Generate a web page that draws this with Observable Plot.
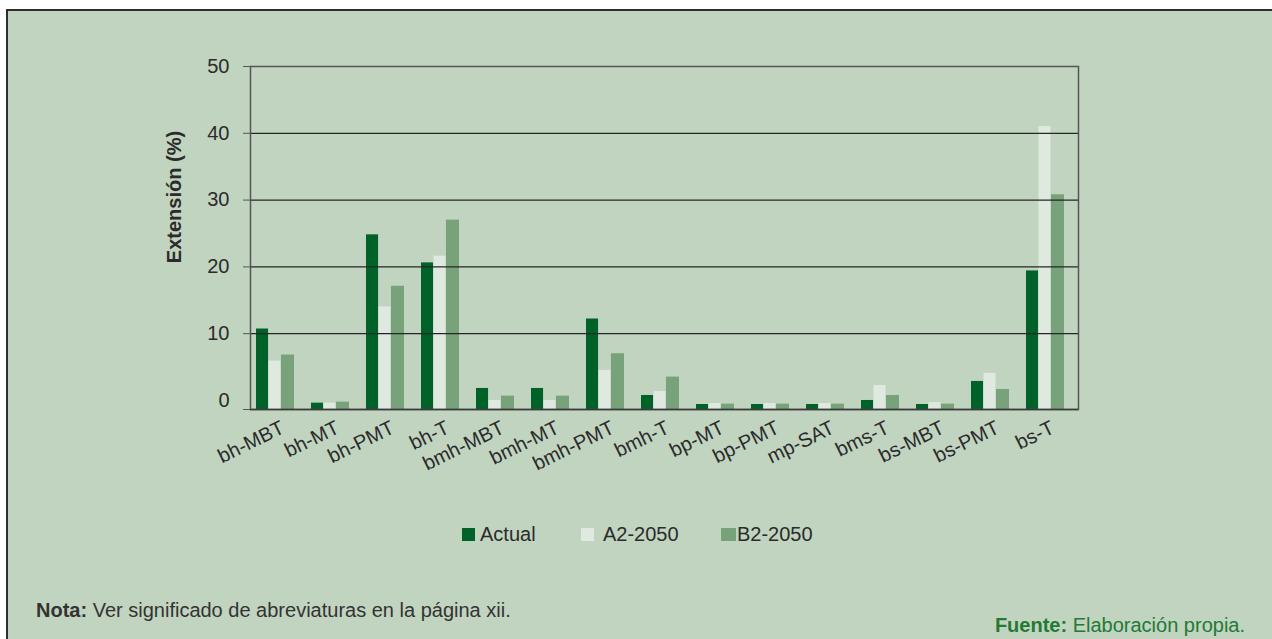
<!DOCTYPE html>
<html>
<head>
<meta charset="utf-8">
<script src="https://cdn.jsdelivr.net/npm/d3@7"></script>
<script src="https://cdn.jsdelivr.net/npm/@observablehq/plot@0.6"></script>
<style>
  html, body { margin: 0; padding: 0; background: #ffffff; }
  #page { position: relative; width: 1272px; height: 639px; overflow: hidden; background: #ffffff;
          font-family: "Liberation Sans", Arial, Helvetica, sans-serif; }
  #panel { position: absolute; left: 6px; top: 9px; width: 1270px; height: 640px;
           background: #c1d4c0; border-left: 2px solid #2e2e2e; border-top: 2px solid #2e2e2e; }
  #chart { position: absolute; left: 0; top: 0; }
  #ylab { position: absolute; left: 174px; top: 197px; transform: translate(-50%, -50%) rotate(-90deg);
          white-space: nowrap; font-weight: bold; font-size: 20px; color: #2b2b2b; }
  .leg { position: absolute; top: 522px; height: 24px; display: flex; align-items: center;
         font-size: 20px; color: #2b2b2b; }
  .sw { width: 13px; height: 13px; display: inline-block; }
  #nota { position: absolute; left: 36px; top: 599px; font-size: 20px; color: #333; }
  #fuente { position: absolute; right: 27px; top: 614px; font-size: 20px; color: #237a35; }
</style>
</head>
<body>
<div id="page">
  <div id="panel"></div>
  <div id="chart"></div>
  <div id="ylab">Extensión (%)</div>
  <div class="leg" style="left:462px"><span class="sw" style="background:#006229"></span><span style="margin-left:5px">Actual</span></div>
  <div class="leg" style="left:581px"><span class="sw" style="background:#e0e9e0"></span><span style="margin-left:9px">A2-2050</span></div>
  <div class="leg" style="left:721px"><span class="sw" style="background:#78a37a;width:15px"></span><span style="margin-left:1px">B2-2050</span></div>
  <div id="nota"><b>Nota:</b> Ver significado de abreviaturas en la página xii.</div>
  <div id="fuente"><b>Fuente:</b> Elaboración propia.</div>
</div>
<script>
const categories = ["bh-MBT","bh-MT","bh-PMT","bh-T","bmh-MBT","bmh-MT","bmh-PMT","bmh-T","bp-MT","bp-PMT","mp-SAT","bms-T","bs-MBT","bs-PMT","bs-T"];
const series = ["Actual","A2-2050","B2-2050"];
const actual = [10.7, -0.4, 24.8, 20.6, 1.8, 1.8, 12.2, 0.75, -0.6, -0.6, -0.6, 0, -0.6, 2.85, 19.4];
const a2050  = [5.9, -0.4, 14.0, 21.6, 0, 0, 4.5, 1.35, -0.45, -0.45, -0.45, 2.25, -0.3, 4.05, 41.0];
const b2050  = [6.8, -0.25, 17.1, 27.0, 0.65, 0.65, 7.0, 3.5, -0.55, -0.55, -0.55, 0.75, -0.55, 1.65, 30.8];
const yTicks = [0, 10, 20, 30, 40, 50];
const colors = ["#006229", "#e0e9e0", "#78a37a"];
const yMin = -1.35;

const rows = (vals, s) => categories.map((c, i) => ({cat: c, serie: s, value: vals[i]}));
const dActual = rows(actual, series[0]);
const dA2 = rows(a2050, series[1]);
const dB2 = rows(b2050, series[2]);

const bw = 37.4; // group width in px (band)
const third = bw / 3;

const chart = Plot.plot({
  width: 1272,
  height: 480,
  marginLeft: 250,
  marginRight: 194,
  marginTop: 66,
  marginBottom: 71,
  style: {background: "transparent", fontFamily: "'Liberation Sans', Arial, sans-serif", fontSize: "19px", color: "#2b2b2b", overflow: "visible"},
  x: {domain: categories, type: "band", paddingInner: 0.32, paddingOuter: 0.18, align: 0.3, label: null},
  y: {domain: [yMin, 50], label: null},
  color: {domain: series, range: colors},
  marks: [
    Plot.barY(dActual, {x: "cat", y1: yMin, y2: "value", fill: colors[0], insetLeft: 0, insetRight: 2 * third}),
    Plot.barY(dA2, {x: "cat", y1: yMin, y2: "value", fill: colors[1], insetLeft: third, insetRight: third}),
    Plot.barY(dB2, {x: "cat", y1: yMin, y2: "value", fill: colors[2], insetLeft: 2 * third, insetRight: -1}),
    Plot.ruleY(yTicks.filter(t => t > 0 && t < 50), {stroke: "#262626", strokeWidth: 1.3}),
    Plot.frame({stroke: "#555", strokeWidth: 1.5}),
    Plot.ruleY([yMin], {stroke: "#3a3a3a", strokeWidth: 1.6}),
    Plot.axisY({ticks: yTicks.filter(t => t > 0), tickSize: 7, tickPadding: 14, label: null, stroke: "#555", fontSize: 20}),
    Plot.axisY({ticks: [0], tickSize: 0, tickPadding: 21, label: null, fontSize: 20}),
    Plot.axisY({ticks: [yMin], tickSize: 7, tickFormat: () => "", label: null, stroke: "#555"}),
    Plot.axisX({tickRotate: -26, tickSize: 0, tickPadding: 17, label: null, fontSize: 20, dx: 8})
  ]
});
document.getElementById("chart").appendChild(chart);
</script>
</body>
</html>
